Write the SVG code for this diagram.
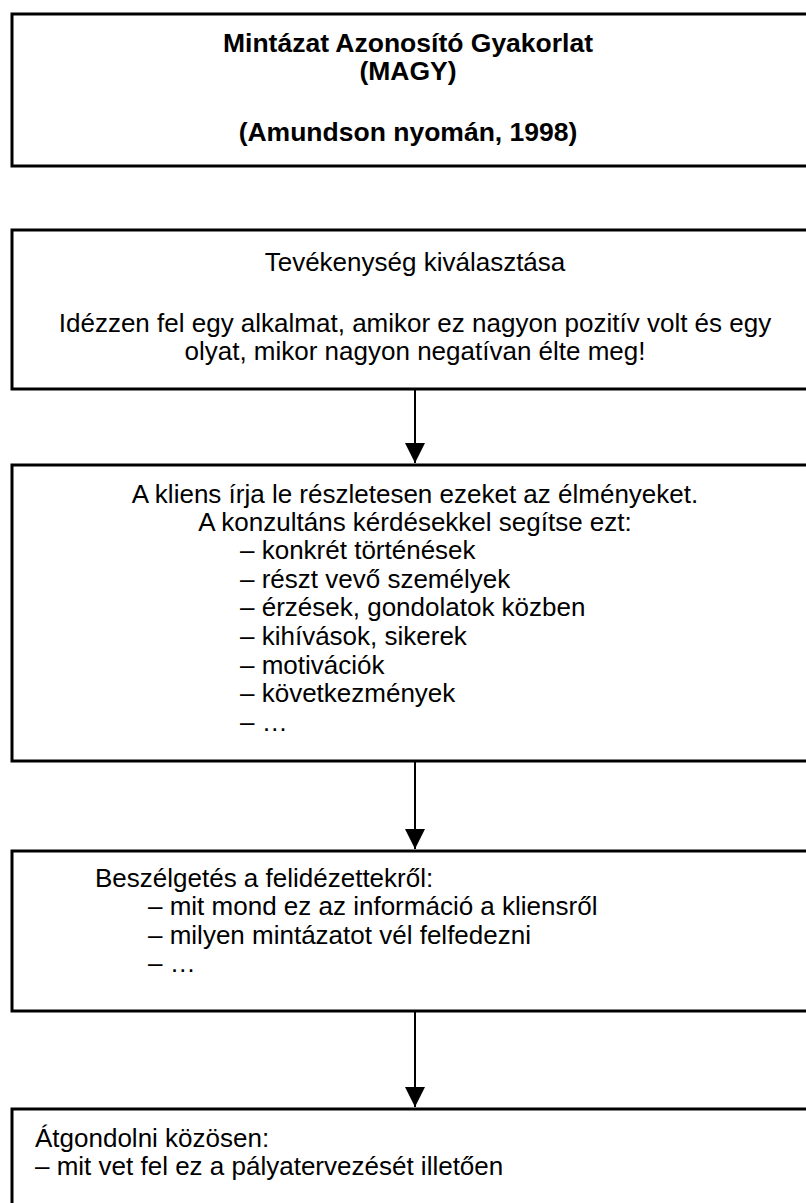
<svg xmlns="http://www.w3.org/2000/svg" width="806" height="1203" viewBox="0 0 806 1203">
<style>
.box{fill:#fff;stroke:#000;stroke-width:3}
text{font-family:"Liberation Sans",Arial,sans-serif;font-size:26px;fill:#000}
.b{font-weight:bold;font-size:26.5px}
.c{text-anchor:middle}
.conn{stroke:#000;stroke-width:2;fill:none}
</style>
<defs>
<marker id="ah" markerWidth="10" markerHeight="10" refX="10" refY="5" orient="auto" markerUnits="strokeWidth">
<path d="M0,0 L10,5 L0,10 Z" fill="#000"/>
</marker>
</defs>
<g id="node-title">
<rect class="box" x="12" y="14" width="800" height="152"/>
<text class="b c" x="408" y="52">Mintázat Azonosító Gyakorlat</text>
<text class="b c" x="408" y="80">(MAGY)</text>
<text class="b c" x="408" y="141">(Amundson nyomán, 1998)</text>
</g>
<g id="node-1">
<rect class="box" x="12" y="230" width="800" height="159"/>
<text class="c" x="415" y="271">Tevékenység kiválasztása</text>
<text class="c" x="415" y="332">Idézzen fel egy alkalmat, amikor ez nagyon pozitív volt és egy</text>
<text class="c" x="415" y="360">olyat, mikor nagyon negatívan élte meg!</text>
</g>
<g id="node-2">
<rect class="box" x="12" y="465" width="800" height="296"/>
<text class="c" x="415" y="503">A kliens írja le részletesen ezeket az élményeket.</text>
<text class="c" x="415" y="531">A konzultáns kérdésekkel segítse ezt:</text>
<text x="240" y="559">– konkrét történések</text>
<text x="240" y="588">– részt vevő személyek</text>
<text x="240" y="616">– érzések, gondolatok közben</text>
<text x="240" y="645">– kihívások, sikerek</text>
<text x="240" y="674">– motivációk</text>
<text x="240" y="702">– következmények</text>
<text x="240" y="731">– …</text>
</g>
<g id="node-3">
<rect class="box" x="12" y="851" width="800" height="160"/>
<text x="95" y="887">Beszélgetés a felidézettekről:</text>
<text x="148" y="915">– mit mond ez az információ a kliensről</text>
<text x="148" y="944">– milyen mintázatot vél felfedezni</text>
<text x="148" y="972">– …</text>
</g>
<g id="node-4">
<rect class="box" x="12" y="1109" width="800" height="110"/>
<text x="35" y="1147">Átgondolni közösen:</text>
<text x="35" y="1175">– mit vet fel ez a pályatervezését illetően</text>
</g>
<g id="connectors">
<line class="conn" x1="415" y1="390" x2="415" y2="463" marker-end="url(#ah)"/>
<line class="conn" x1="415" y1="762" x2="415" y2="849" marker-end="url(#ah)"/>
<line class="conn" x1="415" y1="1012" x2="415" y2="1107" marker-end="url(#ah)"/>
</g>
</svg>
